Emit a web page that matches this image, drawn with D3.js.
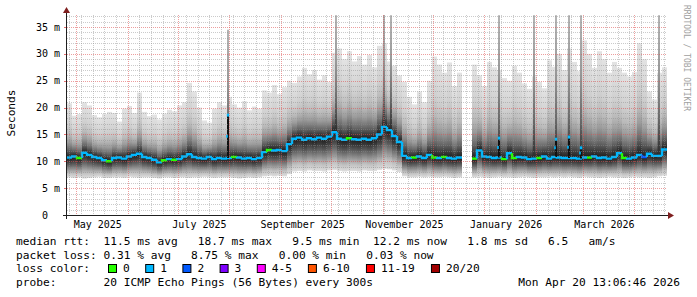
<!DOCTYPE html>
<html>
<head>
<meta charset="utf-8">
<script src="https://cdn.jsdelivr.net/npm/d3@7"></script>
<style>
  body { margin: 0; background: #fff; }
  svg { display: block; }
  text { font-family: "DejaVu Sans Mono", monospace; white-space: pre; }
</style>
</head>
<body>
<div id="chart"></div>
<script>
// time frame of the graph, one sample every 3 days from the left edge
var startTime = new Date(2025, 3, 25, 13, 6, 46);
var endTime = new Date(2026, 3, 20, 13, 6, 46);
var stepDays = 3;

// median rtt in ms (null = no data)
var medianRtt = [
  10.7, 10.9, 10.6, 11.6, 11.2, 10.8, 10.6, 10.2, 10.0, 10.6,
  10.7, 10.5, 10.9, 11.2, 11.4, 10.8, 10.6, 10.3, 9.8, 10.2,
  10.4, 10.3, 10.4, 10.9, 11.3, 10.8, 10.6, 10.5, 10.8, 10.4,
  10.6, 10.5, 10.6, 10.8, 10.7, 10.5, 10.6, 10.4, 10.6, 11.7,
  12.1, 12.0, 12.1, 11.9, 13.2, 14.2, 14.4, 14.0, 14.3, 14.1,
  14.4, 14.2, 14.6, 15.4, 14.2, 14.0, 14.3, 14.1, 14.0, 14.2,
  14.0, 14.3, 15.0, 16.4, 15.8, 14.7, 13.6, 11.0, 10.6, 10.7,
  10.9, 10.6, 11.2, 10.7, 10.6, 10.8, 10.6, 10.5, 10.7, null,
  null, 10.5, 12.0, 10.9, 10.8, 10.6, 10.7, 10.4, 11.5, 10.6,
  10.8, 10.7, 10.4, 10.5, 10.6, 10.9, 10.5, 10.8, 10.7, 10.6,
  10.6, 10.6, 10.5, 10.7, 10.7, 10.9, 10.6, 10.7, 10.5, 10.8,
  11.5, 10.6, 10.5, 10.7, 11.2, 10.8, 11.4, 11.0, 11.0, 12.2
];

// loss class per sample (index into lossNames / lossColors)
var lossLevel = [
  1, 1, 0, 1, 1, 1, 1, 1, 0, 1,
  1, 1, 1, 1, 1, 1, 1, 1, 1, 0,
  1, 0, 1, 1, 1, 1, 1, 1, 1, 1,
  1, 1, 1, 0, 1, 1, 1, 1, 1, 1,
  0, 1, 1, 1, 1, 1, 1, 1, 1, 1,
  1, 1, 1, 1, 1, 1, 0, 1, 1, 1,
  1, 1, 1, 1, 1, 1, 1, 1, 1, 0,
  1, 1, 1, 0, 1, 0, 1, 1, 1, null,
  null, 0, 1, 1, 1, 1, 1, 0, 1, 0,
  1, 1, 1, 1, 0, 1, 1, 1, 1, 1,
  1, 1, 1, 1, 0, 1, 1, 1, 1, 1,
  1, 0, 1, 1, 1, 2, 1, 1, 1, 1
];

// slowest ping of the sample (top of the smoke), ms
var pingHigh = [
  20.8, 18.5, 18.8, 21.0, 20.4, 18.6, 18.2, 18.8, 19.2, 19.0,
  17.4, 19.8, 20.3, 19.0, 22.8, 19.2, 18.4, 18.7, 17.8, 18.9,
  19.6, 19.3, 20.4, 21.0, 24.6, 23.0, 20.0, 17.6, 17.2, 19.8,
  21.0, 20.4, 22.0, 20.6, 20.0, 21.2, 19.5, 20.2, 19.8, 23.2,
  22.8, 24.2, 22.5, 23.8, 25.0, 24.6, 25.8, 27.4, 26.2, 27.0,
  25.2, 26.0, 24.8, 30.2, 31.0, 29.0, 30.5, 28.6, 29.6, 28.0,
  29.8, 27.5, 31.5, 32.0, 28.6, 27.8, 26.0, 24.8, 22.0, 20.6,
  23.0, 21.0, 25.0, 29.5, 28.0, 26.5, 28.4, 24.0, 26.5, null,
  null, 28.0, 26.0, 24.0, 28.5, 27.5, 27.0, 25.5, 25.0, 27.8,
  26.5, 24.5, 23.5, 25.8, 24.8, 23.6, 28.8, 27.6, 30.0, 27.0,
  31.0, 28.5, 26.8, 32.5, 30.0, 27.4, 30.5, 29.0, 26.5, 28.5,
  27.4, 26.5, 25.8, 26.6, 32.0, 29.0, 23.0, 21.5, 26.5, 27.5
];

// fastest ping of the sample (bottom of the smoke), ms
var pingLow = [
  7.0, 6.9, 7.0, 6.8, 6.9, 7.0, 7.1, 6.9, 6.9, 7.0,
  7.0, 6.9, 7.1, 7.0, 6.9, 7.0, 7.0, 6.9, 6.8, 7.0,
  7.0, 6.9, 7.0, 7.0, 6.9, 7.0, 7.0, 7.1, 7.0, 6.9,
  7.0, 7.0, 7.0, 6.9, 6.8, 6.9, 7.0, 6.9, 7.0, 7.2,
  7.3, 7.2, 7.3, 7.2, 7.6, 8.1, 8.2, 8.1, 8.3, 8.2,
  8.2, 8.1, 8.3, 8.4, 8.2, 8.1, 8.2, 8.2, 8.1, 8.3,
  8.2, 8.2, 8.4, 8.6, 8.5, 8.3, 8.0, 7.2, 7.0, 7.0,
  7.1, 7.0, 7.1, 7.0, 7.0, 7.1, 7.0, 6.9, 7.0, null,
  null, 7.0, 7.1, 7.0, 6.9, 7.0, 7.1, 7.0, 7.0, 6.9,
  7.0, 7.1, 7.0, 6.9, 7.0, 7.0, 7.1, 7.0, 7.1, 7.0,
  7.1, 7.0, 6.9, 7.1, 7.0, 7.0, 6.9, 7.0, 7.1, 7.0,
  7.0, 6.9, 7.0, 7.1, 7.0, 7.0, 6.9, 7.0, 7.2, 7.3
];

// short bursts of slow pings (narrow dark streaks), with the median during the burst
var spikeDates = ["2025-07-31", "2025-10-04", "2025-11-02", "2025-11-06", "2025-12-24",
  "2026-01-10", "2026-01-31", "2026-02-13", "2026-02-21", "2026-02-28", "2026-04-16"];
var spikeTops = [34.5, 37.2, 37.2, 37.2, 37.2, 37.2, 37.2, 37.2, 37.2, 37.2, 37.2];
var spikeMedians = [18.7, null, null, null, null, 14.4, null, 14.2, 14.6, 12.6, null];

// y axis
var yTickValues = [0, 5, 10, 15, 20, 25, 30, 35];
var yTickLabels = ["0  ", "5 m", "10 m", "15 m", "20 m", "25 m", "30 m", "35 m"];

// legend
var lossNames = ["0", "1", "2", "3", "4-5", "6-10", "11-19", "20/20"];
var lossColors = ["#26ff00", "#00b8ff", "#0059ff", "#7e00ff", "#ff00ff", "#ff5500", "#ff0000", "#a10000"];
var rttLine = "median rtt:  11.5 ms avg   18.7 ms max   9.5 ms min  12.2 ms now   1.8 ms sd   6.5   am/s";
var lossLine = "packet loss: 0.31 % avg   8.75 % max   0.00 % min   0.03 % now";
var probeLine = "probe:       20 ICMP Echo Pings (56 Bytes) every 300s";
var stampText = "Mon Apr 20 13:06:46 2026";
var watermark = "RRDTOOL / TOBI OETIKER";

// dimensions
var width = 697, height = 297;
var plot = {left: 67, right: 667, top: 15, bottom: 215};

var svg = d3.select("#chart").append("svg")
  .attr("width", width)
  .attr("height", height);

var x = d3.scaleTime().domain([startTime, endTime]).range([plot.left, plot.right]);
var y = d3.scaleLinear().domain([0, 37.24]).range([plot.bottom, plot.top]);

// gradients used for the smoke
var defs = svg.append("defs");
function addGradient(id, dir, stops) {
  var g = defs.append("linearGradient").attr("id", id)
    .attr("x1", 0).attr("x2", 0)
    .attr("y1", dir == "up" ? 1 : 0).attr("y2", dir == "up" ? 0 : 1);
  stops.forEach(function(s) {
    g.append("stop").attr("offset", s[0]).attr("stop-color", s[1]);
  });
}
addGradient("smokeUp", "up", [[0, "#1c1c1c"], [0.06, "#3a3a3a"], [0.15, "#696969"],
  [0.28, "#9a9a9a"], [0.42, "#bababa"], [0.6, "#cfcfcf"], [0.8, "#dadada"], [1, "#e3e3e3"]]);
addGradient("smokeDown", "down", [[0, "#1c1c1c"], [0.2, "#3c3c3c"], [0.4, "#666666"],
  [0.6, "#959595"], [0.8, "#c2c2c2"], [1, "#dedede"]]);
addGradient("spikeUp", "up", [[0, "#2a2a2a"], [0.25, "#666666"], [0.6, "#999999"], [1, "#b4b4b4"]]);

// build sample records
var samples = medianRtt.map(function(m, i) {
  return {
    t0: d3.timeDay.offset(startTime, i * stepDays),
    t1: d3.timeDay.offset(startTime, (i + 1) * stepDays),
    median: m, loss: lossLevel[i], high: pingHigh[i], low: pingLow[i]
  };
});
var valid = samples.filter(function(d) { return d.median != null; });

// smoke: upper and lower half of every sample
var smoke = svg.append("g").attr("id", "smoke");
smoke.selectAll("rect.up").data(valid).enter().append("rect")
  .attr("class", "up")
  .attr("x", function(d) { return x(d.t0); })
  .attr("width", function(d) { return Math.min(x(d.t1), plot.right) - x(d.t0); })
  .attr("y", function(d) { return y(d.high); })
  .attr("height", function(d) { return y(d.median) - y(d.high); })
  .attr("fill", "url(#smokeUp)");
smoke.selectAll("rect.down").data(valid).enter().append("rect")
  .attr("class", "down")
  .attr("x", function(d) { return x(d.t0); })
  .attr("width", function(d) { return Math.min(x(d.t1), plot.right) - x(d.t0); })
  .attr("y", function(d) { return y(d.median); })
  .attr("height", function(d) { return y(d.low) - y(d.median); })
  .attr("fill", "url(#smokeDown)");

// narrow streaks
var spikes = spikeDates.map(function(s, i) {
  var t = d3.timeParse("%Y-%m-%d")(s);
  var idx = Math.floor((t - startTime) / (stepDays * 864e5));
  return {t: t, top: spikeTops[i], med: spikeMedians[i], base: medianRtt[idx], loss: lossLevel[idx]};
});
smoke.selectAll("rect.spike").data(spikes).enter().append("rect")
  .attr("class", "spike")
  .attr("x", function(d) { return Math.round(x(d.t)) - 1; })
  .attr("width", 2)
  .attr("y", function(d) { return y(d.top); })
  .attr("height", function(d) { return y(d.base) - y(d.top); })
  .attr("fill", "url(#spikeUp)");

// median line, coloured by loss
var med = svg.append("g").attr("id", "median");
samples.forEach(function(d, i) {
  if (d.median == null) return;
  var prev = i > 0 ? samples[i - 1].median : null;
  var x0 = x(d.t0), x1 = Math.min(x(d.t1), plot.right), ym = y(d.median);
  var p = prev == null ? `M${x0},${ym}` : `M${x0},${y(prev)}L${x0},${ym}`;
  med.append("path")
    .attr("d", p + `L${x1},${ym}`)
    .attr("fill", "none")
    .attr("stroke", lossColors[d.loss])
    .attr("stroke-width", 2.4);
});

// median during the short bursts: thin dark stem with a blue tip
spikes.filter(function(d) { return d.med != null; }).forEach(function(d) {
  var xx = Math.round(x(d.t));
  med.append("line")
    .attr("x1", xx).attr("x2", xx)
    .attr("y1", y(d.base)).attr("y2", y(d.med))
    .attr("stroke", "#111").attr("stroke-width", 2);
  med.append("line")
    .attr("x1", xx).attr("x2", xx)
    .attr("y1", y(d.med) + 2).attr("y2", y(d.med) - 1)
    .attr("stroke", lossColors[1]).attr("stroke-width", 2.4);
  med.append("line")
    .attr("x1", xx - 1).attr("x2", xx - 1)
    .attr("y1", y((d.med + d.base) / 2) + 1.5).attr("y2", y((d.med + d.base) / 2) - 1.5)
    .attr("stroke", lossColors[1]).attr("stroke-width", 1.6);
});

// grid
var grid = svg.append("g").attr("id", "grid").attr("stroke-dasharray", "1,1");
var minorCol = "rgba(140,140,140,0.45)", majorCol = "rgba(222,79,79,0.55)";
d3.range(1, 38).forEach(function(v) {
  var yy = Math.round(y(v)) + 0.5;
  grid.append("line")
    .attr("x1", plot.left).attr("x2", plot.right)
    .attr("y1", yy).attr("y2", yy)
    .attr("stroke", v % 5 == 0 ? majorCol : minorCol);
});
var months = d3.timeMonth.range(startTime, endTime);
d3.timeSunday.range(startTime, endTime).forEach(function(t) {
  if (t.getDate() == 1) return;
  var xx = Math.round(x(t)) + 0.5;
  grid.append("line").attr("x1", xx).attr("x2", xx)
    .attr("y1", plot.top).attr("y2", plot.bottom)
    .attr("stroke", minorCol);
});
months.forEach(function(t) {
  var xx = Math.round(x(t)) + 0.5;
  grid.append("line").attr("x1", xx).attr("x2", xx)
    .attr("y1", plot.top).attr("y2", plot.bottom)
    .attr("stroke", majorCol);
});

// y tick labels and little ticks
var yAxis = svg.append("g").attr("id", "y_axis");
yTickValues.forEach(function(v, i) {
  var yy = Math.round(y(v)) + 0.5;
  yAxis.append("line").attr("x1", plot.left - 3).attr("x2", plot.left)
    .attr("y1", yy).attr("y2", yy).attr("stroke", "rgba(222,79,79,0.8)");
  yAxis.append("text")
    .attr("x", 60).attr("y", y(v) + 3.5)
    .attr("text-anchor", "end")
    .attr("font-size", "10px")
    .text(yTickLabels[i]);
});

// x labels, every second month
var xAxis = svg.append("g").attr("id", "x_axis");
months.filter(function(t) { return t.getMonth() % 2 == 0; }).forEach(function(t) {
  xAxis.append("text")
    .attr("x", x(d3.timeDay.offset(t, 13)))
    .attr("y", 228)
    .attr("text-anchor", "middle")
    .attr("font-size", "10px")
    .text(d3.timeFormat("%B %Y")(t));
});

// axes with arrows
svg.append("line").attr("x1", plot.left - 4).attr("x2", plot.right + 4)
  .attr("y1", plot.bottom + 0.5).attr("y2", plot.bottom + 0.5)
  .attr("stroke", "#1f1f1f");
svg.append("line").attr("x1", plot.left - 0.5).attr("x2", plot.left - 0.5)
  .attr("y1", plot.bottom + 4).attr("y2", plot.top - 4)
  .attr("stroke", "#1f1f1f");
svg.append("path")
  .attr("d", `M${plot.right + 1},${plot.bottom - 3}L${plot.right + 1},${plot.bottom + 4}L${plot.right + 7},${plot.bottom + 0.5}Z`)
  .attr("fill", "#7f1f1f");
svg.append("path")
  .attr("d", `M${plot.left - 4},${plot.top - 2}L${plot.left + 3},${plot.top - 2}L${plot.left - 0.5},${plot.top - 8}Z`)
  .attr("fill", "#7f1f1f");

// axis title
svg.append("text")
  .attr("transform", "translate(15, 113) rotate(-90)")
  .attr("text-anchor", "middle")
  .attr("font-size", "11.2px")
  .text("Seconds");

// watermark on the right
svg.append("text")
  .attr("transform", "translate(684, 5) rotate(90)")
  .attr("font-size", "8px")
  .attr("fill", "#a0a0a0")
  .text(watermark);

// legend
var legend = svg.append("g").attr("id", "legend")
  .attr("font-size", "11.2px");
legend.append("text").attr("x", 16).attr("y", 245).text(rttLine);
legend.append("text").attr("x", 16).attr("y", 258.5).text(lossLine);
legend.append("text").attr("x", 16).attr("y", 272).text("loss color:");
var lx = 108;
lossNames.forEach(function(n, i) {
  legend.append("rect")
    .attr("x", lx + 0.5).attr("y", 264.5)
    .attr("width", 8).attr("height", 8)
    .attr("fill", lossColors[i]).attr("stroke", "#000");
  legend.append("text").attr("x", lx + 15).attr("y", 272).text(n);
  lx += 30.25 + n.length * 6.95;
});
legend.append("text").attr("x", 16).attr("y", 286).text(probeLine);
legend.append("text").attr("x", 680).attr("y", 286)
  .attr("text-anchor", "end").text(stampText);
</script>
</body>
</html>
